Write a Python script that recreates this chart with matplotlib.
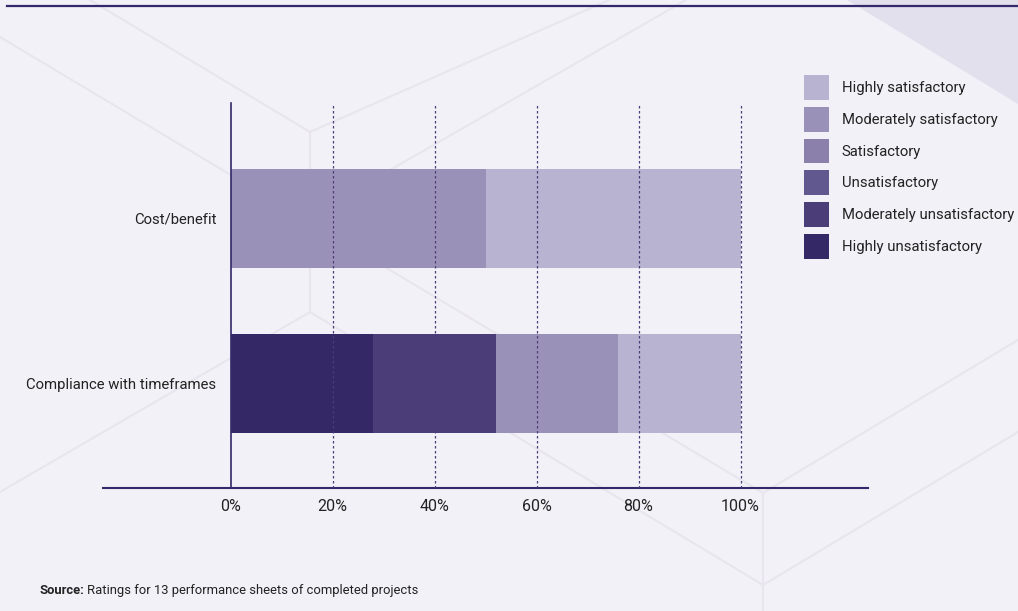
import matplotlib
matplotlib.use("Agg")
import matplotlib.pyplot as plt
from matplotlib.lines import Line2D
from matplotlib.patches import Polygon
import matplotlib.font_manager as fm

# data (percent of sheets per rating)
categories = ["Compliance with timeframes", "Cost/benefit"]
ratings = ["Highly unsatisfactory", "Moderately unsatisfactory", "Unsatisfactory",
           "Satisfactory", "Moderately satisfactory", "Highly satisfactory"]
highly_unsat = [28, 0]
moderately_unsat = [24, 0]
unsat = [0, 0]
sat = [0, 0]
moderately_sat = [24, 50]
highly_sat = [24, 50]
xticks = [0, 20, 40, 60, 80, 100]
xtick_labels = ["0%", "20%", "40%", "60%", "80%", "100%"]

colors = ["#352866", "#4b3d78", "#625890", "#8a80ab", "#9a91b9", "#b8b3d0"]
bg = "#f3f1f8"
dark = "#33286a"
text_c = "#222222"

names = [f.name for f in fm.fontManager.ttflist]
fam = "Liberation Sans Narrow" if "Liberation Sans Narrow" in names else "Roboto"
plt.rcParams["font.family"] = [fam, "DejaVu Sans"]

W, H = 1018, 611
fig = plt.figure(figsize=(W / 100, H / 100), dpi=100, facecolor=bg)

def px(x, y):
    return x / W, 1 - y / H

# background decoration
tri = Polygon([px(847, 0), px(1018, 0), px(1018, 104)], closed=True,
              transform=fig.transFigure, facecolor="#e3e0ed", edgecolor="none", zorder=0)
fig.add_artist(tri)
deco = [
    [(90, 0), (310, 132)],
    [(310, 132), (609, 0)],
    [(310, 132), (310, 312)],
    [(310, 312), (0, 492)],
    [(310, 312), (763, 585)],
    [(763, 585), (1018, 432)],
    [(763, 493), (763, 611)],
    [(763, 493), (1018, 340)],
    [(0, 37), (763, 493)],
    [(310, 216), (686, 0)],
]
for seg in deco:
    (x0, y0), (x1, y1) = px(*seg[0]), px(*seg[1])
    fig.add_artist(Line2D([x0, x1], [y0, y1], transform=fig.transFigure,
                          color="#e8e5ee", lw=1.5, zorder=0))
x0, y0 = px(7, 6)
x1, _ = px(1018, 6)
fig.add_artist(Line2D([x0, x1], [y0, y0], transform=fig.transFigure, color=dark, lw=1.6))

ax = fig.add_axes([103 / W, 1 - 488 / H, 765 / W, 385 / H])
ax.set_facecolor("none")

ypos = [0, 1]
series = [highly_unsat, moderately_unsat, unsat, sat, moderately_sat, highly_sat]
left = [0, 0]
handles = []
for name, vals, c in zip(ratings, series, colors):
    b = ax.barh(ypos, vals, left=left, height=0.6, color=c, label=name, zorder=2)
    handles.append(b)
    left = [l + v for l, v in zip(left, vals)]

for t in xticks[1:]:
    ax.axvline(t, color="#4b3d78", lw=0.9, ls=(0, (2, 2)), zorder=3)

ax.set_xlim(-25, 125)
ax.set_ylim(-0.636, 1.697)
ax.set_xticks(xticks)
ax.set_xticklabels(xtick_labels)
ax.set_yticks(ypos)
ax.set_yticklabels(categories)
ax.tick_params(axis="both", length=0, labelcolor=text_c)
ax.tick_params(axis="x", pad=8, labelsize=11.5)
ax.tick_params(axis="y", pad=10, labelsize=10.7)
for s in ["top", "right"]:
    ax.spines[s].set_visible(False)
ax.spines["left"].set_position(("data", 0))
ax.spines["left"].set_color(dark)
ax.spines["left"].set_linewidth(1.2)
ax.spines["left"].set_zorder(4)
ax.spines["bottom"].set_color(dark)
ax.spines["bottom"].set_linewidth(1.5)

leg = ax.legend(handles=handles[::-1], labels=ratings[::-1], loc="upper left",
                bbox_to_anchor=px(804, 75), bbox_transform=fig.transFigure,
                frameon=False, fontsize=10.7, handlelength=1.67, handleheight=2.19,
                labelspacing=0.47, handletextpad=0.87, borderpad=0, borderaxespad=0)
for t in leg.get_texts():
    t.set_color(text_c)

# source note: bold prefix then regular text, sharing one baseline
sx, sy = px(39, 594)
src = fig.text(sx, sy, "Source:", fontsize=9.4, fontweight="bold", color=text_c,
               va="baseline", ha="left")
r = fig.canvas.get_renderer()
bb = src.get_window_extent(renderer=r)
fig.text((bb.x1 + 3) / W, sy, "Ratings for 13 performance sheets of completed projects",
         fontsize=9.4, color=text_c, va="baseline", ha="left")

fig.savefig("out.png", dpi=100, facecolor=bg)
